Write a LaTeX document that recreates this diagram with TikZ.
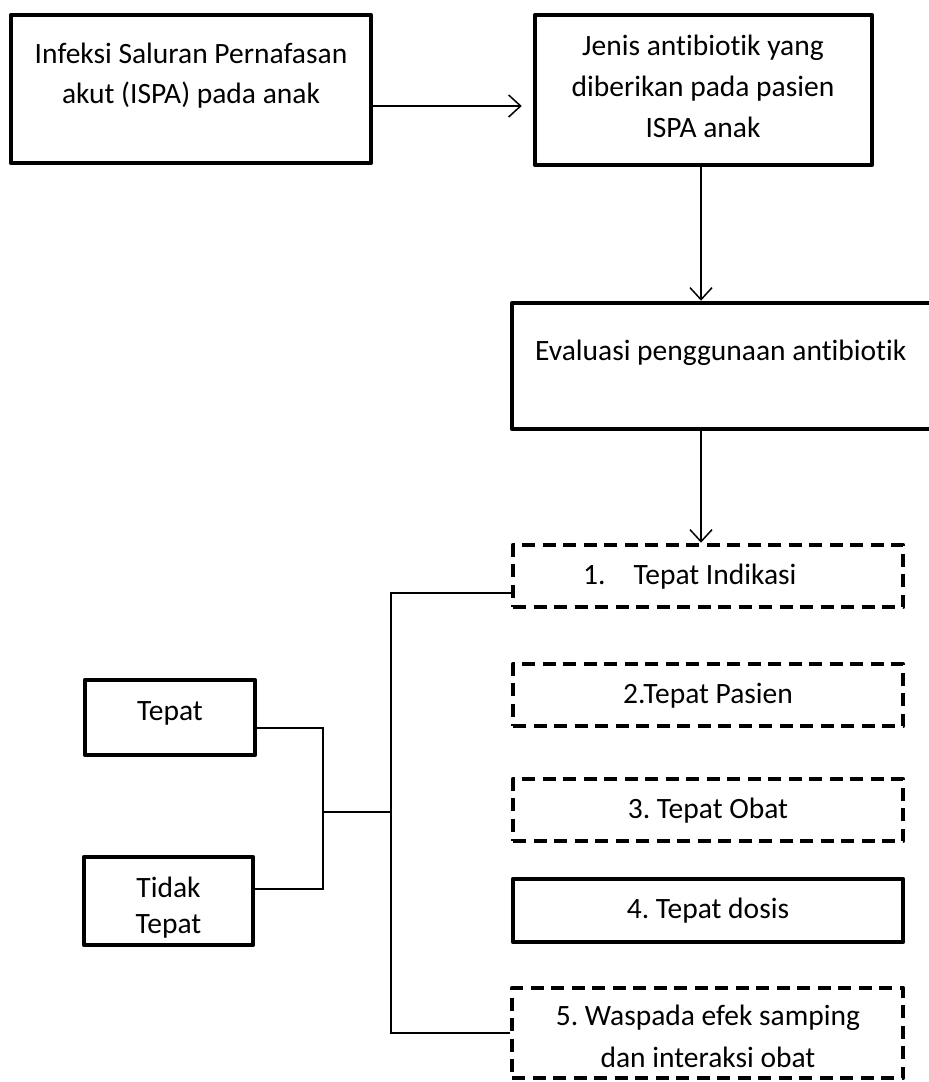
\documentclass[tikz,border=0pt]{standalone}
\usepackage{fontspec}
\setmainfont{Carlito}[Ligatures=NoCommon]
\frenchspacing
\usetikzlibrary{arrows.meta}
\begin{document}
\begin{tikzpicture}[x=1pt,y=-1pt,
  boxs/.style={draw, line width=4.5pt, line join=round, inner sep=0pt},
  dboxs/.style={boxs, dash pattern=on 13pt off 7.5pt},
  txt/.style={inner sep=0pt, align=center, font=\fontsize{29.5pt}{40pt}\selectfont},
  conn/.style={line width=1.5pt},
  brk/.style={line width=2pt},
  arr/.style={conn, -{Straight Barb[length=12pt,width=22pt]}}]
\useasboundingbox (0,0) rectangle (929,1082);
% boxes
\node[boxs, minimum width=360pt, minimum height=148pt] (A) at (191,89) {};
\node[boxs, minimum width=337pt, minimum height=150pt] (B) at (703.5,90) {};
\node[boxs, minimum width=440pt, minimum height=126pt] (C) at (732,366) {};
\node[dboxs, minimum width=390pt, minimum height=62pt] (D1) at (708,576) {};
\node[dboxs, minimum width=390pt, minimum height=62pt] (D2) at (708,695) {};
\node[dboxs, minimum width=390pt, minimum height=62pt] (D3) at (708,810) {};
\node[boxs, minimum width=390pt, minimum height=63pt] (D4) at (708,910.5) {};
\node[dboxs, minimum width=391pt, minimum height=90pt] (D5) at (707.5,1033) {};
\node[boxs, minimum width=170pt, minimum height=75pt] (T) at (170,717.5) {};
\node[boxs, minimum width=169pt, minimum height=88pt] (TT) at (168.5,901) {};
% texts (base anchor = baseline of the last line)
\node[txt, anchor=base] (tA) at (191,103) {Infeksi Saluran Pernafasan\\akut (ISPA) pada anak};
\node[txt, anchor=base, font=\fontsize{29.5pt}{41pt}\selectfont] (tB) at (703,137) {Jenis antibiotik yang\\diberikan pada pasien\\ISPA anak};
\node[txt, anchor=base west] (tC) at (535,360) {Evaluasi penggunaan antibiotik};
\node[txt, anchor=base west] (t1) at (583,584) {1.\hspace{28pt}Tepat Indikasi};
\node[txt, anchor=base] (t2) at (708,703) {2.Tepat Pasien};
\node[txt, anchor=base] (t3) at (708,818) {3. Tepat Obat};
\node[txt, anchor=base] (t4) at (708,918) {4. Tepat dosis};
\node[txt, anchor=base, font=\fontsize{29.5pt}{42pt}\selectfont] (t5) at (708,1067) {5. Waspada efek samping\\dan interaksi obat};
\node[txt, anchor=base] (tT) at (170,720) {Tepat};
\node[txt, anchor=base, font=\fontsize{29.5pt}{36pt}\selectfont] (tTT) at (168.5,933) {Tidak\\Tepat};
% connectors
\draw[arr] ([yshift=-17pt]A.east) -- ([xshift=-11pt,yshift=-16pt]B.west);
\draw[arr] ([xshift=-2.5pt]B.south) -- ([xshift=-2.5pt]B.south |- C.north);
\draw[arr] ([xshift=-2.5pt]B.south |- C.south) -- ([xshift=-2.5pt]B.south |- D1.north);
\coordinate (jx) at (391,812);
\coordinate (jy) at (323,812);
\draw[brk] ([yshift=-17pt]D1.west) -| (jx) |- (D5.west);
\draw[brk] (jx) -- (jy);
\draw[conn] ([yshift=-10.5pt]T.east) -| (jy);
\draw[conn] ([yshift=12pt]TT.east) -| (jy);
\end{tikzpicture}
\end{document}
